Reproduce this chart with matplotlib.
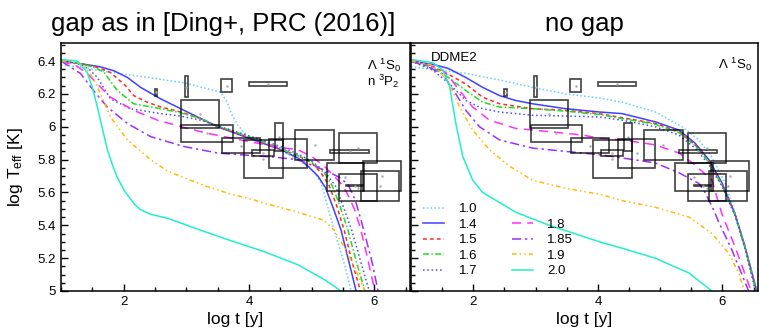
import matplotlib
matplotlib.use("Agg")
import matplotlib.pyplot as plt
from matplotlib.patches import Rectangle
from matplotlib.ticker import MultipleLocator, FormatStrFormatter

plt.rcParams['font.family'] = ['Liberation Sans', 'DejaVu Sans']
plt.rcParams['mathtext.fontset'] = 'custom'
plt.rcParams['mathtext.rm'] = 'Liberation Sans'
plt.rcParams['mathtext.it'] = 'Liberation Sans:italic'
plt.rcParams['mathtext.bf'] = 'Liberation Sans:bold'

# masses of the models (legend labels)
labels = ['1.0', '1.4', '1.5', '1.6', '1.7', '1.8', '1.85', '1.9', '2.0']

# ---- left panel: gap as in Ding+ 2016 ----
gx10 = [1.0, 1.3, 1.8, 2.4, 3.0, 3.3, 3.55, 3.65, 3.72, 3.82, 3.98, 4.5, 4.95, 5.05, 5.15, 5.36, 5.52, 5.63]
gy10 = [6.375, 6.365, 6.33, 6.30, 6.265, 6.235, 6.21, 6.15, 6.08, 6.01, 5.94, 5.86, 5.76, 5.72, 5.66, 5.37, 5.17, 5.0]
gx14 = [1.0, 1.3, 1.63, 1.85, 2.06, 2.27, 2.59, 2.91, 3.23, 3.5, 4.0, 4.51, 4.78, 4.94, 5.10, 5.22, 5.35, 5.47, 5.60, 5.71]
gy14 = [6.40, 6.385, 6.365, 6.34, 6.30, 6.24, 6.17, 6.11, 6.05, 6.00, 5.93, 5.86, 5.81, 5.76, 5.70, 5.63, 5.50, 5.37, 5.17, 5.0]
gx15 = [1.0, 1.3, 1.6, 1.79, 2.03, 2.16, 2.37, 2.6, 2.91, 3.23, 3.5, 4.0, 4.5, 4.8, 5.0, 5.15, 5.28, 5.40, 5.52, 5.65, 5.78]
gy15 = [6.40, 6.385, 6.36, 6.33, 6.25, 6.19, 6.15, 6.12, 6.09, 6.05, 6.00, 5.935, 5.865, 5.82, 5.78, 5.72, 5.64, 5.52, 5.37, 5.17, 5.0]
gx16 = [1.0, 1.3, 1.5, 1.68, 1.90, 2.16, 2.59, 2.91, 3.23, 3.5, 4.0, 4.5, 4.8, 5.0, 5.2, 5.33, 5.45, 5.58, 5.72, 5.85]
gy16 = [6.40, 6.385, 6.365, 6.335, 6.22, 6.14, 6.11, 6.085, 6.05, 6.005, 5.94, 5.87, 5.82, 5.785, 5.72, 5.64, 5.52, 5.37, 5.17, 5.0]
gx17 = [1.0, 1.3, 1.45, 1.58, 1.79, 2.11, 2.59, 2.91, 3.23, 3.5, 4.0, 4.5, 4.8, 5.0, 5.2, 5.38, 5.50, 5.64, 5.79, 5.92]
gy17 = [6.40, 6.38, 6.35, 6.30, 6.17, 6.11, 6.08, 6.065, 6.04, 6.005, 5.945, 5.88, 5.83, 5.79, 5.73, 5.64, 5.52, 5.37, 5.17, 5.0]
gx18 = [1.0, 1.25, 1.42, 1.58, 1.79, 2.16, 2.54, 3.02, 3.34, 3.87, 4.40, 4.78, 5.0, 5.2, 5.36, 5.5, 5.6, 5.68, 5.78, 5.88, 5.95, 6.01]
gy18 = [6.40, 6.37, 6.325, 6.26, 6.18, 6.10, 6.04, 5.99, 5.96, 5.92, 5.88, 5.86, 5.82, 5.76, 5.70, 5.64, 5.57, 5.50, 5.38, 5.22, 5.10, 5.0]
gx185 = [1.0, 1.31, 1.52, 1.74, 2.06, 2.43, 2.96, 3.5, 4.03, 4.40, 4.78, 5.05, 5.3, 5.45, 5.58, 5.70, 5.79, 5.88, 5.95, 6.06]
gy185 = [6.40, 6.325, 6.22, 6.12, 6.02, 5.94, 5.88, 5.84, 5.825, 5.815, 5.80, 5.76, 5.72, 5.69, 5.65, 5.55, 5.43, 5.30, 5.20, 5.0]
gx19 = [1.0, 1.3, 1.4, 1.52, 1.63, 1.79, 2.06, 2.43, 2.7, 2.96, 3.34, 3.71, 4.03, 4.24, 4.78, 5.20, 5.36, 5.52, 5.68, 5.85]
gy19 = [6.40, 6.385, 6.36, 6.29, 6.20, 6.06, 5.92, 5.80, 5.73, 5.69, 5.635, 5.59, 5.56, 5.535, 5.48, 5.43, 5.37, 5.27, 5.15, 5.0]
gx20 = [1.0, 1.26, 1.42, 1.5, 1.58, 1.74, 1.82, 1.90, 1.97, 2.03, 2.1, 2.18, 2.27, 2.43, 2.70, 3.23, 3.76, 4.24, 4.78, 5.20, 5.47]
gy20 = [6.41, 6.40, 6.33, 6.24, 6.12, 5.86, 5.77, 5.69, 5.64, 5.60, 5.565, 5.525, 5.495, 5.467, 5.443, 5.37, 5.30, 5.24, 5.16, 5.07, 5.0]

# ---- right panel: no gap ----
nx10 = [1.0, 1.88, 2.42, 2.95, 3.48, 4.02, 4.39, 4.92, 5.35, 5.62, 5.82, 6.04, 6.20, 6.36, 6.55]
ny10 = [6.365, 6.325, 6.285, 6.24, 6.20, 6.175, 6.15, 6.09, 6.00, 5.92, 5.82, 5.66, 5.48, 5.28, 5.0]
nx14 = [1.0, 1.35, 1.6, 1.88, 2.15, 2.42, 2.68, 2.95, 3.48, 4.02, 4.39, 4.92, 5.30, 5.56, 5.78, 5.99, 6.20, 6.36, 6.55]
ny14 = [6.40, 6.38, 6.355, 6.30, 6.24, 6.19, 6.16, 6.14, 6.11, 6.09, 6.08, 6.03, 5.98, 5.90, 5.80, 5.66, 5.47, 5.27, 5.0]
nx15 = [1.0, 1.35, 1.6, 1.88, 2.15, 2.42, 2.95, 3.48, 4.02, 4.92, 5.30, 5.56, 5.78, 5.99, 6.20, 6.36, 6.54]
ny15 = [6.40, 6.365, 6.32, 6.26, 6.18, 6.14, 6.11, 6.10, 6.08, 6.02, 5.97, 5.89, 5.79, 5.65, 5.47, 5.27, 5.0]
nx16 = [1.0, 1.35, 1.6, 1.88, 2.15, 2.42, 2.95, 3.48, 4.02, 4.92, 5.30, 5.56, 5.78, 5.99, 6.20, 6.36, 6.54]
ny16 = [6.40, 6.36, 6.30, 6.22, 6.15, 6.12, 6.11, 6.095, 6.075, 6.015, 5.965, 5.885, 5.785, 5.645, 5.465, 5.265, 5.0]
nx17 = [1.0, 1.35, 1.62, 1.88, 2.15, 2.42, 2.95, 4.02, 4.39, 4.92, 5.30, 5.56, 5.78, 5.99, 6.20, 6.36, 6.53]
ny17 = [6.40, 6.345, 6.26, 6.16, 6.11, 6.09, 6.07, 6.06, 6.04, 6.00, 5.95, 5.87, 5.77, 5.64, 5.46, 5.26, 5.0]
nx18 = [1.0, 1.3, 1.51, 1.62, 1.78, 1.99, 2.26, 2.68, 3.22, 3.75, 4.02, 4.39, 4.92, 5.30, 5.55, 5.83, 5.99, 6.20, 6.46]
ny18 = [6.40, 6.375, 6.345, 6.30, 6.22, 6.12, 6.04, 5.99, 5.97, 5.95, 5.93, 5.92, 5.89, 5.84, 5.77, 5.675, 5.47, 5.27, 5.0]
nx185 = [1.0, 1.3, 1.51, 1.72, 1.88, 2.10, 2.42, 2.95, 3.48, 4.02, 4.39, 4.92, 5.30, 5.62, 5.72, 5.85, 5.94, 6.15, 6.42]
ny185 = [6.40, 6.36, 6.32, 6.20, 6.10, 6.00, 5.92, 5.87, 5.85, 5.83, 5.81, 5.78, 5.72, 5.655, 5.60, 5.50, 5.42, 5.25, 5.0]
nx19 = [1.0, 1.3, 1.45, 1.62, 1.78, 1.99, 2.26, 2.58, 2.95, 3.48, 4.02, 4.39, 4.92, 5.46, 5.83, 6.10, 6.26, 6.35]
ny19 = [6.40, 6.38, 6.34, 6.26, 6.12, 5.98, 5.86, 5.76, 5.675, 5.625, 5.59, 5.55, 5.51, 5.45, 5.35, 5.23, 5.11, 5.0]
nx20 = [1.0, 1.35, 1.51, 1.62, 1.72, 1.83, 1.99, 2.15, 2.26, 2.68, 3.22, 4.02, 4.39, 4.92, 5.46, 5.83]
ny20 = [6.41, 6.39, 6.345, 6.245, 6.02, 5.82, 5.675, 5.60, 5.575, 5.48, 5.40, 5.30, 5.26, 5.20, 5.11, 5.0]

# observed stars: log t range and log Teff range (error boxes)
box_xlo = [2.50, 2.98, 3.56, 4.00, 2.91, 2.92, 3.57, 3.92, 4.42, 4.05, 4.32, 4.74, 5.30, 5.44, 5.24, 5.82, 5.44, 5.78, 5.55]
box_xhi = [2.54, 3.02, 3.73, 4.61, 3.52, 3.74, 4.18, 4.54, 4.54, 4.40, 4.92, 5.36, 5.91, 6.05, 5.84, 6.43, 6.05, 6.39, 5.82]
box_ylo = [6.19, 6.18, 6.21, 6.25, 5.99, 5.91, 5.84, 5.69, 5.85, 5.82, 5.75, 5.80, 5.84, 5.78, 5.61, 5.61, 5.55, 5.55, 5.638]
box_yhi = [6.23, 6.31, 6.29, 6.27, 6.16, 6.01, 5.93, 5.92, 6.02, 5.86, 5.925, 5.98, 5.86, 5.96, 5.78, 5.79, 5.71, 5.73, 5.645]

colors = ['#5fd0ff', '#4040ff', '#ff2a2a', '#22dd22', '#4a4aff', '#ff30ff', '#9a30ff', '#ffbb00', '#20f0c8']
styles = [(0, (1, 1.5)), '-', (0, (2.5, 2)), (0, (4, 1.5, 1, 1.5)), (0, (1, 1.8)),
          (0, (6, 4)), (0, (6, 2.5, 1.5, 2.5)), (0, (3, 2, 1, 2, 1, 2)), '-']

gap_curves = [(gx10, gy10), (gx14, gy14), (gx15, gy15), (gx16, gy16), (gx17, gy17),
              (gx18, gy18), (gx185, gy185), (gx19, gy19), (gx20, gy20)]
nogap_curves = [(nx10, ny10), (nx14, ny14), (nx15, ny15), (nx16, ny16), (nx17, ny17),
                (nx18, ny18), (nx185, ny185), (nx19, ny19), (nx20, ny20)]

fig = plt.figure(figsize=(7.59, 3.29), dpi=100)
W, H = 759.0, 329.0
axL = fig.add_axes([61 / W, 1 - 291 / H, 349 / W, 248 / H])
axR = fig.add_axes([411 / W, 1 - 291 / H, 347 / W, 248 / H])


def draw(ax, curves):
    hs = []
    for (x, y), c, ls, lab in zip(curves, colors, styles, labels):
        h, = ax.plot(x, y, color=c, ls=ls, lw=1.1, label=lab, zorder=2)
        hs.append(h)
    for x0, x1, y0, y1 in zip(box_xlo, box_xhi, box_ylo, box_yhi):
        ax.add_patch(Rectangle((x0, y0), x1 - x0, y1 - y0, fill=False,
                               ec='black', lw=1.2, alpha=0.75, zorder=3))
        ax.plot((x0 + x1) / 2, (y0 + y1) / 2, '.', color='#aaaaaa', ms=1.5, zorder=3)
    ax.set_xlim(1, 6.57)
    ax.set_ylim(5, 6.51)
    ax.xaxis.set_major_locator(MultipleLocator(2))
    ax.xaxis.set_minor_locator(MultipleLocator(0.5))
    ax.yaxis.set_major_locator(MultipleLocator(0.2))
    ax.yaxis.set_minor_locator(MultipleLocator(0.05))
    ax.yaxis.set_major_formatter(FormatStrFormatter('%g'))
    ax.tick_params(which='both', direction='in', top=False, right=False, width=1, labelsize=9.5)
    ax.tick_params(which='major', length=5)
    ax.tick_params(which='minor', length=3)
    for s in ax.spines.values():
        s.set_linewidth(1.1)
    ax.set_xlabel('log t [y]', fontsize=12.5)
    ax.xaxis.set_label_coords(0.5, -0.085)
    return hs


draw(axL, gap_curves)
hs = draw(axR, nogap_curves)
axR.set_yticklabels([])

axL.set_ylabel(r'log T$_{\rm eff}$ [K]', fontsize=12.5)
axL.yaxis.set_label_coords(-0.103, 0.5)

axL.set_title('gap as in [Ding+, PRC (2016)]', fontsize=18.5, pad=9, x=0.465)
axR.set_title('no gap', fontsize=18.5, pad=9)

axL.text(0.877, 0.891, r'Λ $^1$S$_0$', transform=axL.transAxes, fontsize=9.5)
axL.text(0.877, 0.828, r'n $^3$P$_2$', transform=axL.transAxes, fontsize=9.5)
axR.text(0.885, 0.895, r'Λ $^1$S$_0$', transform=axR.transAxes, fontsize=9.5)
axR.text(0.057, 0.929, 'DDME2', transform=axR.transAxes, fontsize=9.5)

blank, = axR.plot([], [], color='none', label=' ')
handles = hs[:5] + [blank] + hs[5:]
axR.legend(handles, [h.get_label() for h in handles], ncol=2, loc='upper left',
           bbox_to_anchor=(0.035, 0.355), frameon=False, fontsize=9.5,
           handlelength=1.6, handletextpad=1.1, labelspacing=0.25,
           columnspacing=2.6, borderaxespad=0, borderpad=0)

fig.savefig('out.png', dpi=100)
